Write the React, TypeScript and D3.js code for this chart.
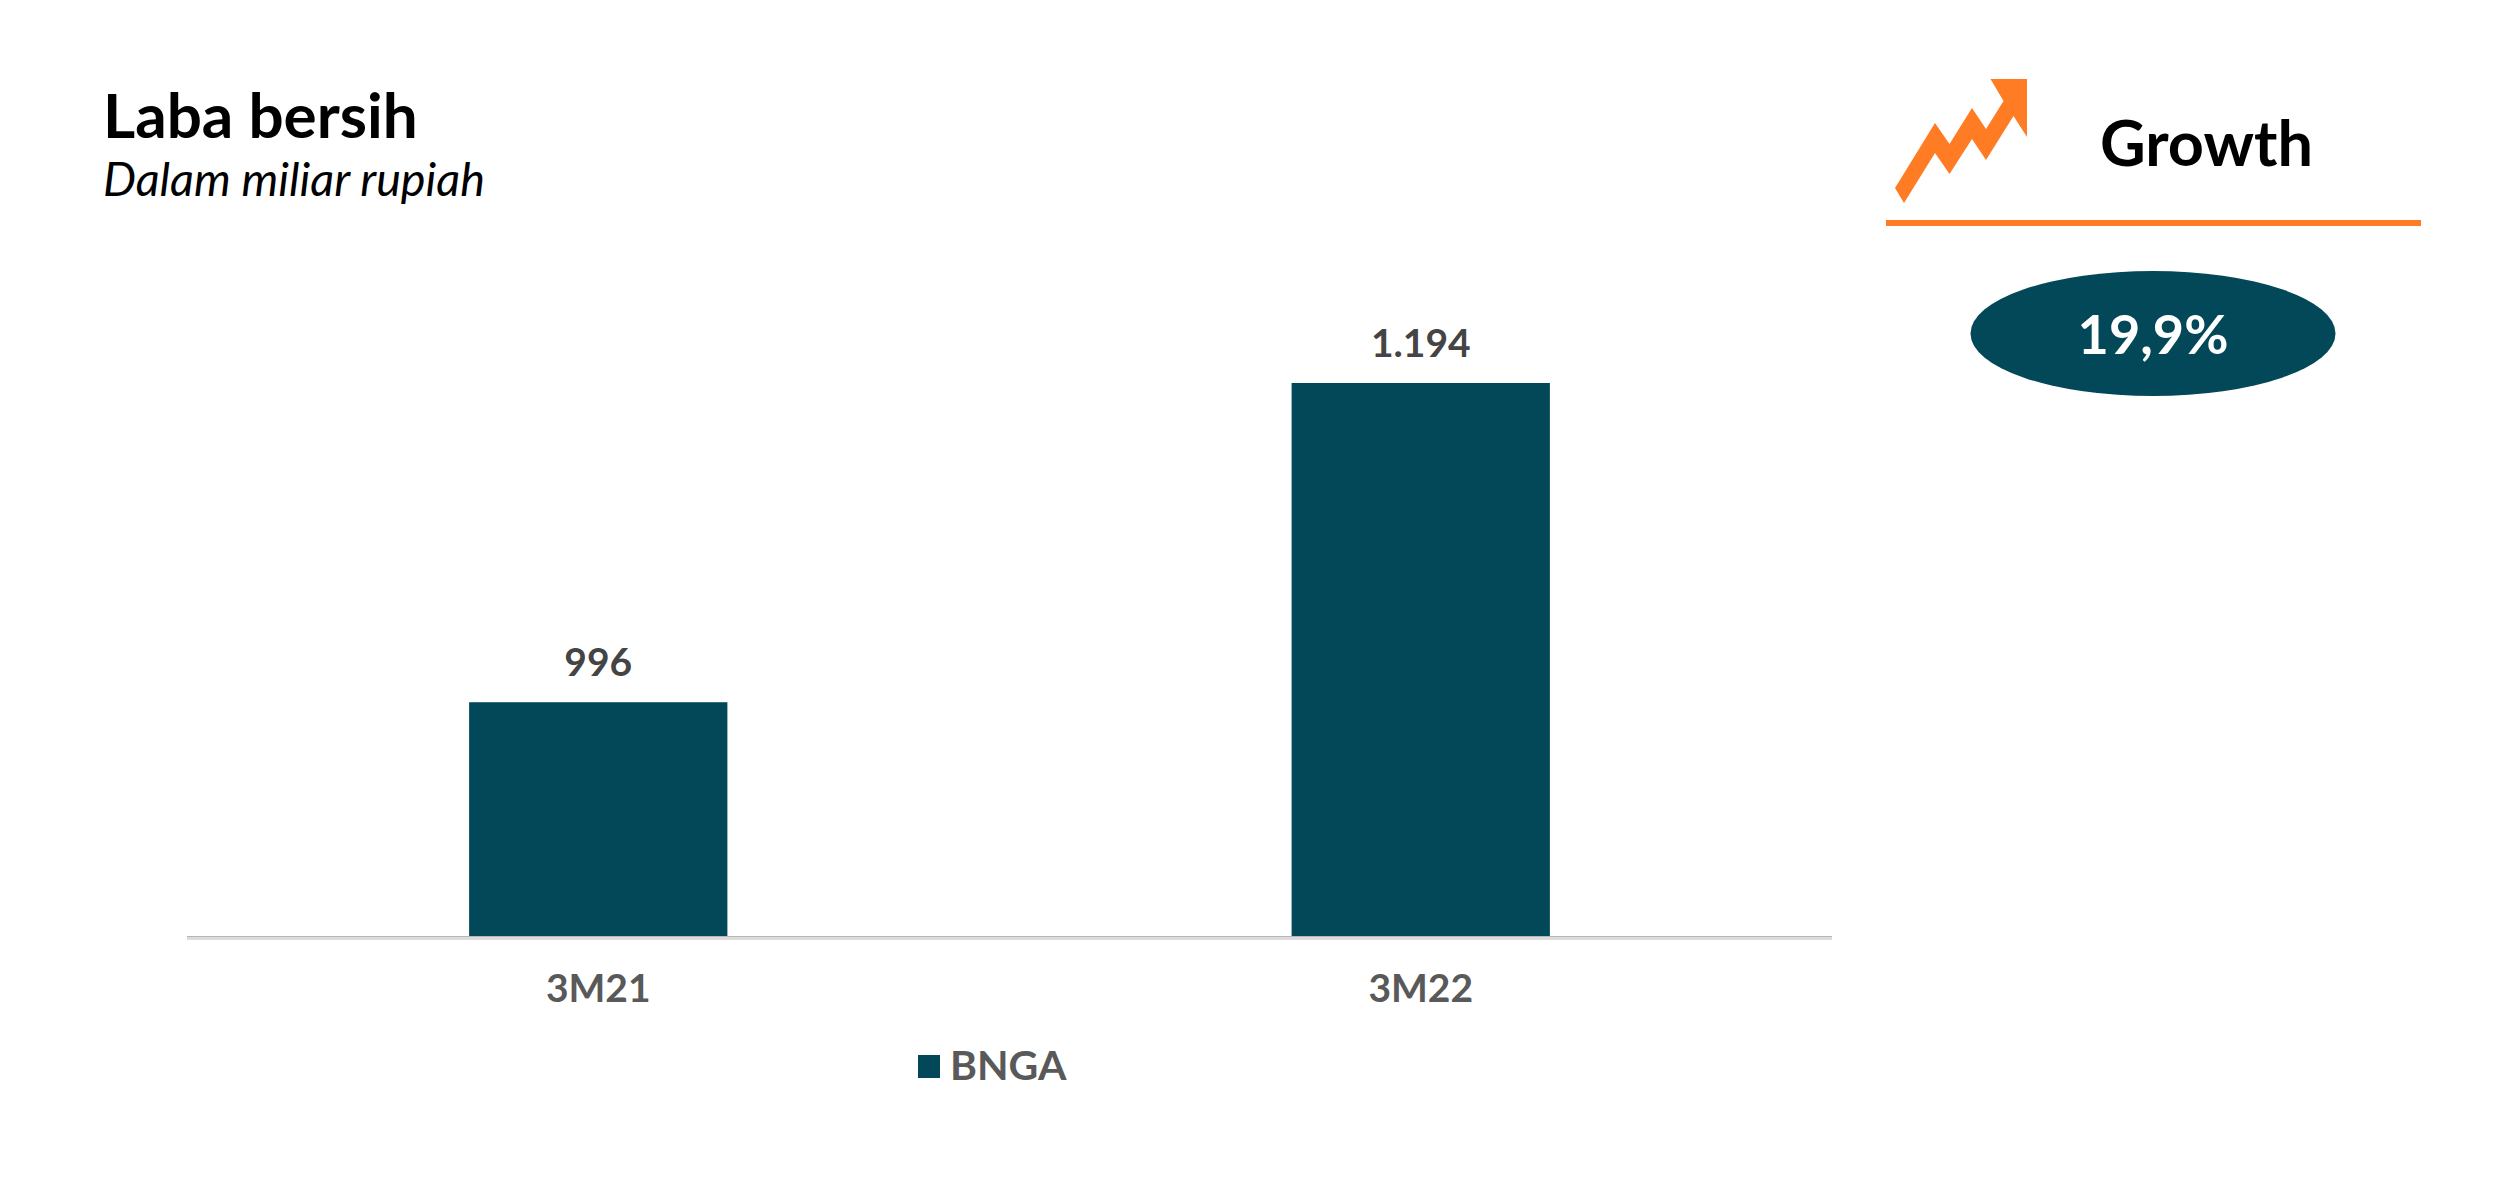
import * as d3 from 'd3';

const categories = ['3M21', '3M22'];
const laba = [996, 1194];
const labaLabels = ['996', '1.194'];
const seriesName = 'BNGA';
const growthLabel = '19,9%';

const width = 2500;
const height = 1177;
const teal = '#034858';
const orange = '#ff7b24';

// arrow icon outline, in page pixels
const arrowIcon: [number, number][] = [
  [1895, 188], [1935, 123], [1949.5, 144], [1972, 108], [1986, 129], [2003.5, 101],
  [1990.5, 79], [2027, 79], [2027, 137], [2013.5, 116], [1986, 160], [1972, 139],
  [1949.5, 174], [1935, 153], [1904, 203],
];

export default function App() {
  const x = d3
    .scaleBand<string>()
    .domain(categories)
    .range([187, 1832])
    .paddingInner(0.686)
    .paddingOuter(0.343);

  // the axis in the source does not start at zero
  const y = d3.scaleLinear().domain([851, 1194]).range([936, 383]);

  const iconPath = d3.line()(arrowIcon) + 'Z';
  const font = 'Lato, sans-serif';

  return (
    <svg
      width={width}
      height={height}
      style={{ position: 'absolute', left: 0, top: 0, background: '#fff' }}
      fontFamily={font}
    >
      <text x={103} y={138} fontSize={62} fontWeight={700} fill="#000">
        Laba bersih
      </text>
      <text x={103} y={196} fontSize={46.7} fontStyle="italic" fill="#000">
        Dalam miliar rupiah
      </text>

      {categories.map((c, i) => (
        <g key={c}>
          <rect
            x={x(c)}
            y={y(laba[i])}
            width={x.bandwidth()}
            height={y(851) - y(laba[i])}
            fill={teal}
          />
          <text
            x={x(c)! + x.bandwidth() / 2}
            y={y(laba[i]) - 26}
            textAnchor="middle"
            fontSize={39}
            fontWeight={700}
            fill="#444444"
          >
            {labaLabels[i]}
          </text>
          <text
            x={x(c)! + x.bandwidth() / 2}
            y={1002}
            textAnchor="middle"
            fontSize={39}
            fontWeight={700}
            fill="#595959"
          >
            {c}
          </text>
        </g>
      ))}

      <rect x={187} y={936} width={1645} height={1.5} fill="#b5b5b5" />
      <rect x={187} y={937.5} width={1645} height={2.5} fill="#dcdcdc" />

      <rect x={918} y={1055} width={22} height={23} fill={teal} />
      <text x={950} y={1080} fontSize={41} fontWeight={700} fill="#595959">
        {seriesName}
      </text>

      <path d={iconPath} fill={orange} />
      <text x={2100} y={166} fontSize={63} fontWeight={700} fill="#000">
        Growth
      </text>
      <rect x={1886} y={220} width={535} height={6} fill={orange} />
      <ellipse cx={2153} cy={333.5} rx={182.5} ry={62.5} fill={teal} />
      <text
        x={2153}
        y={354}
        textAnchor="middle"
        fontSize={54}
        fontWeight={700}
        fill="#fff"
      >
        {growthLabel}
      </text>
    </svg>
  );
}
